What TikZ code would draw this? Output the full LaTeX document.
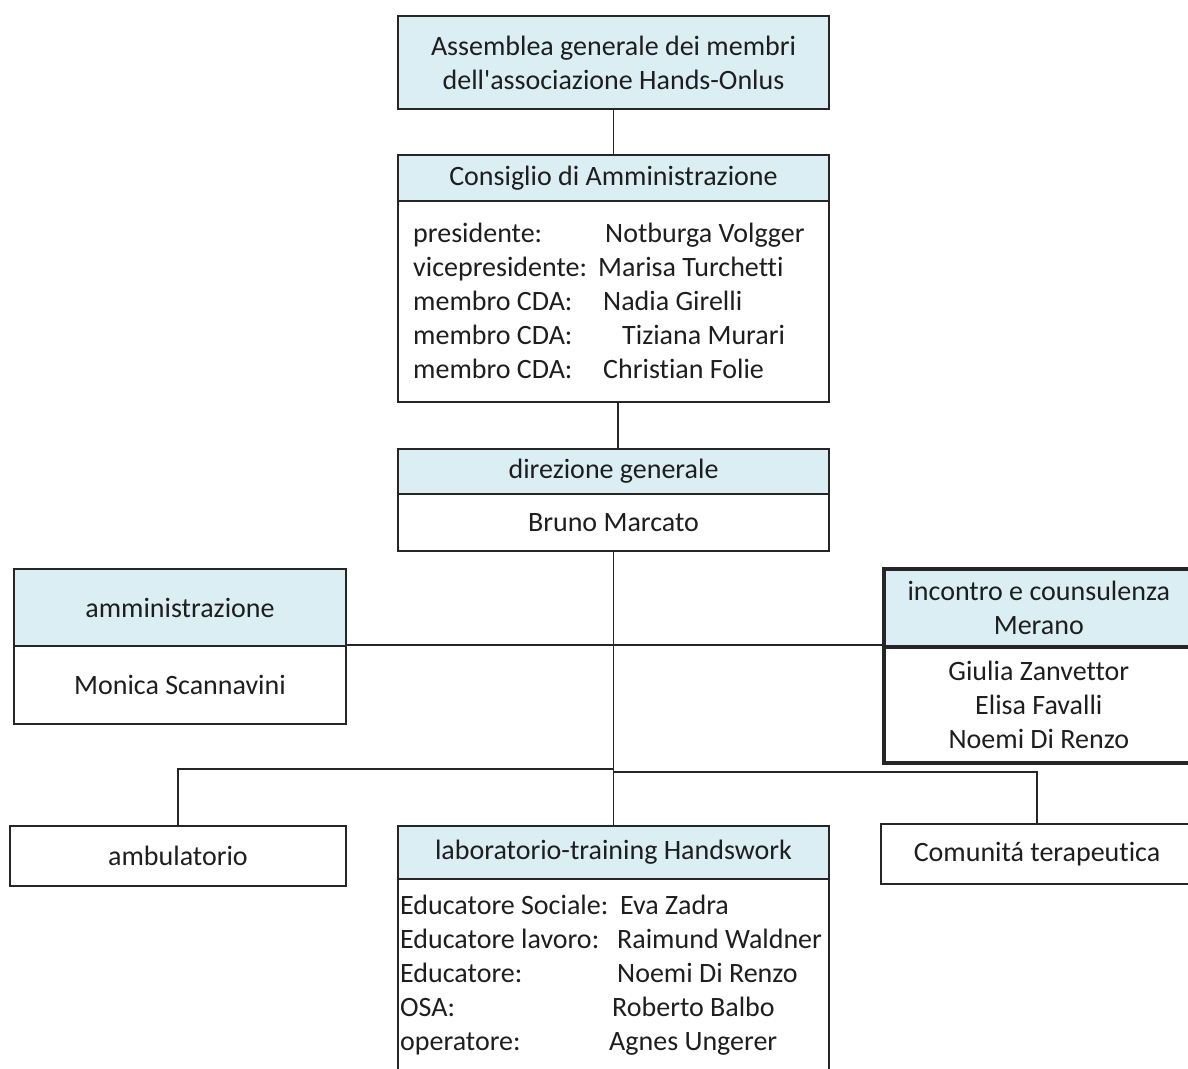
\documentclass[tikz,border=0pt]{standalone}
\usepackage{fontspec}
\setmainfont{Carlito}[Ligatures={NoCommon}]
\definecolor{hdr}{HTML}{DAEEF3}
\definecolor{ink}{HTML}{1E1E1E}
\definecolor{edge}{HTML}{262626}
\begin{document}
\begin{tikzpicture}[x=1pt,y=-1pt,
  font=\fontsize{28}{34}\selectfont, text=ink,
  box/.style={draw=edge, line width=2pt, inner sep=0pt, anchor=north west, align=center},
  hdrbox/.style={box, fill=hdr},
  thickbox/.style={line width=3.6pt},
  conn/.style={draw=edge, line width=1.9pt},
  lbl/.style={anchor=base west, inner sep=0pt}]
\useasboundingbox (0,0) rectangle (1188,1068);
\clip (0,0) rectangle (1188,1068);
\fill[white] (0,0) rectangle (1188,1068);

% Assemblea
\node[hdrbox, minimum width=431pt, minimum height=93pt] (assemblea) at (397,15)
  {Assemblea generale dei membri\\dell\textquotesingle associazione Hands-Onlus};

% Consiglio di Amministrazione
\node[hdrbox, minimum width=431pt, minimum height=46pt] (cdahead) at (397,154) {Consiglio di Amministrazione};
\node[box, minimum width=431pt, minimum height=201pt] (cdabody) at (397,200) {};
\node[lbl] (cdal1) at (413,242) {presidente:};
\node[lbl] (cdan1) at (605,242) {Notburga Volgger};
\node[lbl] (cdal2) at (413,276) {vicepresidente:};
\node[lbl] (cdan2) at (598,276) {Marisa Turchetti};
\node[lbl] (cdal3) at (413,310) {membro CDA:};
\node[lbl] (cdan3) at (603,310) {Nadia Girelli};
\node[lbl] (cdal4) at (413,344) {membro CDA:};
\node[lbl] (cdan4) at (622,344) {Tiziana Murari};
\node[lbl] (cdal5) at (413,378) {membro CDA:};
\node[lbl] (cdan5) at (603,378) {Christian Folie};

% direzione generale
\node[hdrbox, minimum width=431pt, minimum height=45pt] (dirhead) at (397,448) {direzione generale};
\node[box, minimum width=431pt, minimum height=57pt] (dirbody) at (397,493) {Bruno Marcato};

% amministrazione
\node[hdrbox, minimum width=332pt, minimum height=77pt] (ammhead) at (13,568) {amministrazione};
\node[box, minimum width=332pt, minimum height=78pt] (ammbody) at (13,645) {Monica Scannavini};

% incontro e counsulenza
\node[hdrbox, thickbox, minimum width=310pt, minimum height=78pt] (inchead) at (882,567) {incontro e counsulenza\\Merano};
\node[box, thickbox, minimum width=310pt, minimum height=116pt] (incbody) at (882,645) {Giulia Zanvettor\\Elisa Favalli\\Noemi Di Renzo};

% ambulatorio
\node[box, minimum width=336pt, minimum height=60pt] (amb) at (9,825) {ambulatorio};

% laboratorio-training Handswork
\node[hdrbox, minimum width=431pt, minimum height=53pt] (labhead) at (397,825) {laboratorio-training Handswork};
\node[box, minimum width=431pt, minimum height=210pt] (labbody) at (397,878) {};
\node[lbl] (labl1) at (400,914) {Educatore Sociale:};
\node[lbl] (labn1) at (620,914) {Eva Zadra};
\node[lbl] (labl2) at (400,948) {Educatore lavoro:};
\node[lbl] (labn2) at (617,948) {Raimund Waldner};
\node[lbl] (labl3) at (400,982) {Educatore:};
\node[lbl] (labn3) at (617,982) {Noemi Di Renzo};
\node[lbl] (labl4) at (400,1016) {OSA:};
\node[lbl] (labn4) at (612,1016) {Roberto Balbo};
\node[lbl] (labl5) at (400,1050) {operatore:};
\node[lbl] (labn5) at (609,1050) {Agnes Ungerer};

% Comunita terapeutica
\node[box, minimum width=312pt, minimum height=60pt] (com) at (880,823) {Comunitá terapeutica};

% connectors
\coordinate (jl) at (613,769);
\coordinate (jr) at (613,772);
\draw[conn] (assemblea.south) -- (cdahead.north);
\draw[conn] ([xshift=4.5pt]cdabody.south) -- ([xshift=4.5pt]dirhead.north);
\draw[conn] (dirbody.south) -- (labhead.north);
\draw[conn] (ammbody.north east) -- (incbody.north west);
\draw[conn] (jl) -| (amb.north);
\draw[conn] (jr) -| (com.north);
\end{tikzpicture}
\end{document}
